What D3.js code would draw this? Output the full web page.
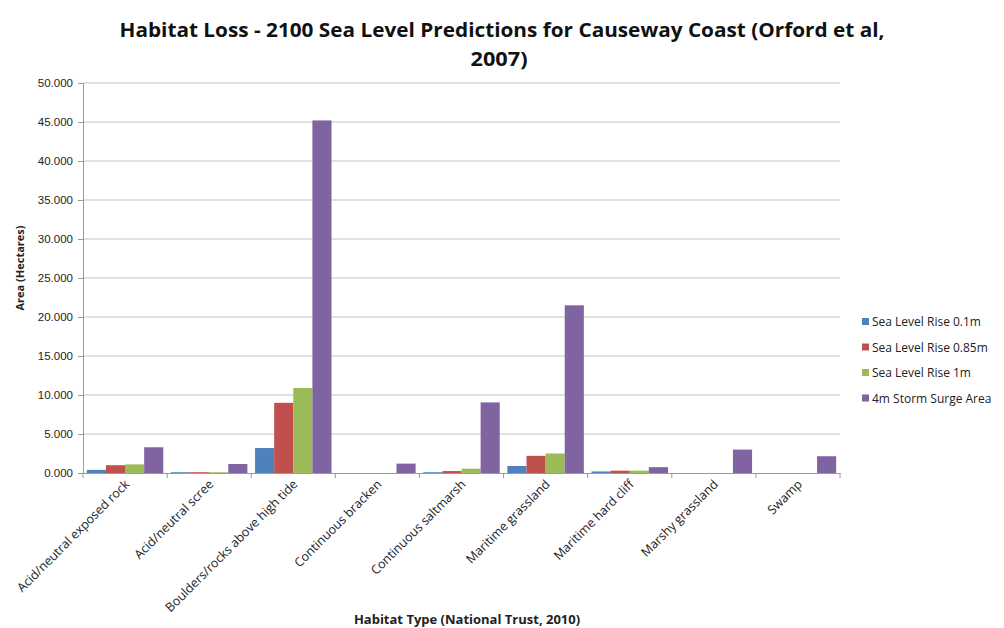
<!DOCTYPE html>
<html>
<head>
<meta charset="utf-8">
<script src="https://cdn.jsdelivr.net/npm/d3@7/dist/d3.min.js"></script>
<style>
  body { margin: 0; background: #fff; }
  svg { display: block; font-family: "Open Sans", "Liberation Sans", sans-serif; }
</style>
</head>
<body>
<svg id="chart" width="1004" height="628"></svg>
<script>
// Habitat categories and loss per scenario (hectares)
const categories = [
  "Acid/neutral exposed rock",
  "Acid/neutral scree",
  "Boulders/rocks above high tide",
  "Continuous bracken",
  "Continuous saltmarsh",
  "Maritime grassland",
  "Maritime hard cliff",
  "Marshy grassland",
  "Swamp"
];
const seriesNames = ["Sea Level Rise 0.1m", "Sea Level Rise 0.85m", "Sea Level Rise 1m", "4m Storm Surge Area"];
const rise01 = [0.4, 0.1, 3.2, 0, 0.1, 0.9, 0.2, 0, 0];
const rise085 = [1.0, 0.1, 9.0, 0, 0.25, 2.2, 0.3, 0, 0];
const rise1 = [1.1, 0.1, 10.9, 0, 0.55, 2.5, 0.3, 0, 0];
const surge4 = [3.3, 1.15, 45.2, 1.2, 9.05, 21.5, 0.75, 3.0, 2.15];
const yTicks = [0, 5, 10, 15, 20, 25, 30, 35, 40, 45, 50];
const colors = ["#4F81BD", "#C0504D", "#9BBB59", "#8064A2"];

const series = [rise01, rise085, rise1, surge4];

const svg = d3.select("#chart");
const plotLeft = 83, plotRight = 840, plotTop = 83, plotBottom = 473;

const x = d3.scaleBand().domain(categories).range([plotLeft, plotRight]).paddingInner(0).paddingOuter(0);
const inner = d3.scaleBand().domain(d3.range(series.length)).range([0, x.bandwidth()]).paddingOuter(0.2);
const y = d3.scaleLinear().domain([0, 50]).range([plotBottom, plotTop]);

// gridlines
svg.append("g").selectAll("line").data(yTicks.slice(1)).join("line")
  .attr("x1", plotLeft).attr("x2", plotRight)
  .attr("y1", d => y(d)).attr("y2", d => y(d))
  .attr("stroke", "#c4c4c4").attr("stroke-width", 1.2);

// y axis
const yAxis = d3.axisLeft(y).tickValues(yTicks).tickSize(5).tickPadding(5)
  .tickFormat(d => d3.format(".3f")(d));
const gy = svg.append("g").attr("transform", `translate(${plotLeft},0)`).call(yAxis);
gy.select(".domain").attr("stroke", "#9a9a9a");
gy.selectAll(".tick line").attr("stroke", "#9a9a9a");
gy.selectAll(".tick text").attr("font-size", 11.5).attr("fill", "#222");

// bars
const groups = svg.append("g").selectAll("g").data(categories).join("g")
  .attr("transform", d => `translate(${x(d)},0)`);
groups.selectAll("rect").data((d, i) => series.map((s, k) => ({k, v: s[i]}))).join("rect")
  .attr("x", d => inner(d.k))
  .attr("width", inner.bandwidth())
  .attr("y", d => y(d.v))
  .attr("height", d => plotBottom - y(d.v))
  .attr("fill", d => colors[d.k]);

// x axis
const xAxis = d3.axisBottom(x).tickSize(0).tickFormat("");
const gx = svg.append("g").attr("transform", `translate(0,${plotBottom})`).call(xAxis);
gx.select(".domain").attr("stroke", "#9a9a9a");
// category boundary ticks
svg.append("g").selectAll("line").data(d3.range(categories.length + 1)).join("line")
  .attr("x1", i => plotLeft + i * x.step()).attr("x2", i => plotLeft + i * x.step())
  .attr("y1", plotBottom).attr("y2", plotBottom + 5)
  .attr("stroke", "#9a9a9a");

// category labels rotated
svg.append("g").selectAll("text").data(categories).join("text")
  .attr("transform", d => `translate(${x(d) + x.bandwidth() / 2 + 5},${plotBottom + 12}) rotate(-45)`)
  .attr("text-anchor", "end")
  .attr("font-size", 12.5)
  .attr("fill", "#222")
  .text(d => d);

// title
const title = svg.append("g").attr("font-weight", "bold").attr("font-size", 20).attr("fill", "#111").attr("text-anchor", "middle");
title.append("text").attr("x", 502).attr("y", 37)
  .attr("textLength", 765).attr("lengthAdjust", "spacingAndGlyphs")
  .text("Habitat Loss - 2100 Sea Level Predictions for Causeway Coast (Orford et al,");
title.append("text").attr("x", 499).attr("y", 66)
  .attr("textLength", 57).attr("lengthAdjust", "spacingAndGlyphs")
  .text("2007)");

// axis titles
svg.append("text")
  .attr("transform", `translate(24,268) rotate(-90)`)
  .attr("text-anchor", "middle").attr("font-size", 11).attr("font-weight", "bold").attr("fill", "#222")
  .text("Area (Hectares)");
svg.append("text")
  .attr("x", 467).attr("y", 624)
  .attr("text-anchor", "middle").attr("font-size", 13).attr("font-weight", "bold").attr("fill", "#222")
  .text("Habitat Type (National Trust, 2010)");

// legend
const legend = svg.append("g").selectAll("g").data(seriesNames).join("g")
  .attr("transform", (d, i) => `translate(862,${322 + i * 25.5})`);
legend.append("rect").attr("x", 0).attr("y", -4).attr("width", 7).attr("height", 7)
  .attr("fill", (d, i) => colors[i]);
legend.append("text").attr("x", 10).attr("y", 4).attr("font-size", 12).attr("fill", "#222")
  .text(d => d);
</script>
</body>
</html>
